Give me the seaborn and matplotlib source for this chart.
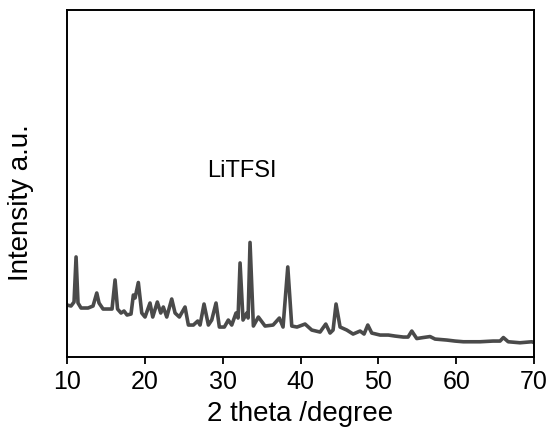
import matplotlib
matplotlib.use("Agg")
import matplotlib.pyplot as plt
import seaborn as sns
import pandas as pd

# XRD pattern of LiTFSI
two_theta = [10.00, 10.51, 10.90, 11.16, 11.41, 11.80, 12.70, 13.34, 13.82, 14.11,
             14.63, 15.78, 16.17, 16.49, 16.94, 17.32, 17.71, 18.22, 18.52, 18.74,
             19.16, 19.60, 20.02, 20.66, 21.01, 21.60, 22.04, 22.37, 22.81, 23.45,
             23.88, 24.43, 25.16, 25.59, 26.23, 26.79, 27.09, 27.60, 28.16, 28.59,
             29.14, 29.57, 30.21, 30.72, 31.16, 31.71, 31.97, 32.23, 32.61, 33.09,
             33.26, 33.51, 33.94, 34.58, 35.44, 36.47, 37.28, 37.75, 38.36, 38.87,
             39.55, 40.58, 41.44, 42.51, 43.24, 43.79, 44.18, 44.56, 45.08, 45.94,
             46.75, 47.65, 48.16, 48.64, 49.15, 50.22, 51.28, 52.14, 53.21, 53.81,
             54.29, 54.93, 55.74, 56.64, 57.28, 58.79, 59.85, 60.92, 63.06, 64.73,
             65.63, 66.06, 66.68, 68.19, 69.71, 70.00]
intensity = [52, 51, 55, 100, 54, 49, 49, 51, 64, 54,
             48, 48, 77, 48, 44, 46, 42, 43, 62, 59,
             74.5, 44, 40, 54, 40, 55, 44, 50, 40, 58,
             44, 40, 50, 32, 32, 36, 32, 53, 32, 37,
             54, 30, 30, 37, 32, 44, 39, 94, 37, 44,
             39, 114.5, 31, 40, 31, 32, 39, 30, 90, 31,
             30, 33, 27, 25, 33, 24, 27, 53, 30, 27,
             23, 26, 23, 32, 24, 22, 22, 21, 20, 20,
             26, 18.5, 19.5, 20.5, 18, 17, 16, 15.3, 15.3, 16,
             16, 19.5, 15.3, 14.3, 15.3, 14.5]

df = pd.DataFrame({'two_theta': two_theta, 'intensity': intensity})

sns.set_style("ticks")
plt.rcParams['font.family'] = ['Liberation Sans', 'DejaVu Sans']
plt.rcParams['text.color'] = 'black'
plt.rcParams['axes.labelcolor'] = 'black'
plt.rcParams['xtick.color'] = 'black'

fig, ax = plt.subplots(figsize=(5.54, 4.36), dpi=100)
fig.subplots_adjust(left=0.121, right=0.964, bottom=0.181, top=0.978)

sns.lineplot(data=df, x='two_theta', y='intensity', ax=ax, color='#4a4a4a', linewidth=2.6)

ax.set_xlim(10, 70)
ax.set_ylim(0, 347)
ax.set_xticks(range(10, 71, 10))
ax.set_yticks([])
ax.tick_params(axis='x', direction='out', length=5, width=1.3, labelsize=18, pad=4,
               colors='black')
for s in ax.spines.values():
    s.set_linewidth(1.4)
    s.set_color('black')

ax.set_xlabel('2 theta /degree', fontsize=20, labelpad=5)
ax.set_ylabel('Intensity a.u.', fontsize=20)
ax.yaxis.set_label_coords(-0.07, 0.445)

ax.text(28.0, 186, 'LiTFSI', fontsize=17, va='center', ha='left')

plt.savefig('out.png', dpi=100)
